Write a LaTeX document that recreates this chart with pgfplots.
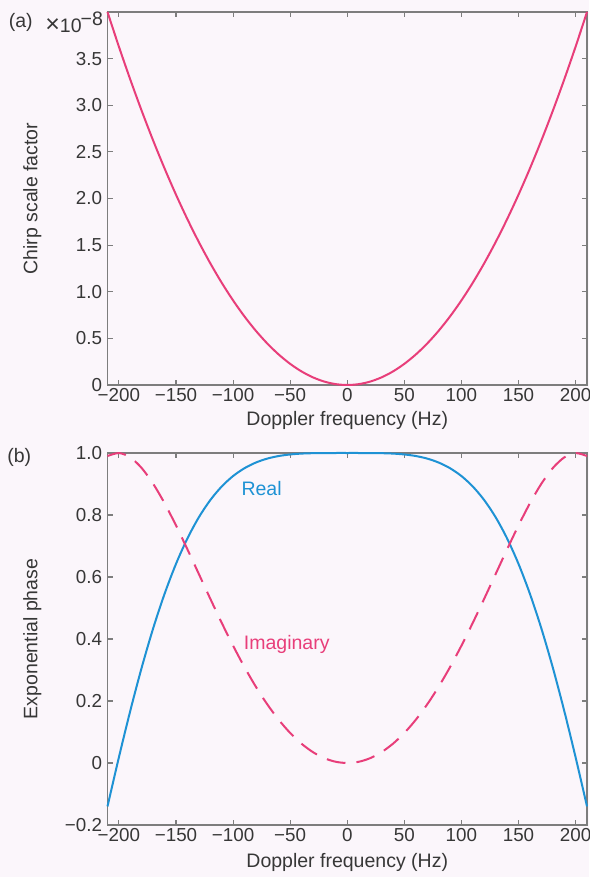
\documentclass[border=0pt]{standalone}
\usepackage{fontspec}
\setmainfont{Liberation Sans}
\usepackage{xcolor}
\usepackage{pgfplots}
\usepackage{pgfplotstable}
\pgfplotsset{compat=1.18}
\definecolor{pinkc}{RGB}{232,62,122}
\definecolor{bluec}{RGB}{30,146,212}
\definecolor{axgray}{RGB}{125,125,125}
\definecolor{txt}{RGB}{55,55,55}
\definecolor{bg}{RGB}{251,246,251}
\pagecolor{bg}
\newcommand\fs{\fontsize{19.5}{23}\selectfont}
\newcommand\ft{\fontsize{18.8}{22}\selectfont}

% chirp in units of 1e-8; re/im of the exponential phase
\pgfplotstableread{
f chirp re im
-210 4.0000 -0.1400 0.9902
-200 3.6281 0.0186 0.9998
-190 3.2744 0.1691 0.9856
-180 2.9388 0.3084 0.9512
-170 2.6213 0.4344 0.9007
-160 2.3220 0.5458 0.8379
-150 2.0408 0.6424 0.7663
-140 1.7778 0.7244 0.6893
-130 1.5329 0.7926 0.6098
-120 1.3061 0.8479 0.5302
-110 1.0975 0.8918 0.4525
-100 0.9070 0.9257 0.3784
-90 0.7347 0.9510 0.3092
-80 0.5805 0.9693 0.2458
-70 0.4444 0.9820 0.1890
-60 0.3265 0.9903 0.1393
-50 0.2268 0.9953 0.0969
-40 0.1451 0.9981 0.0621
-30 0.0816 0.9994 0.0349
-20 0.0363 0.9999 0.0155
-10 0.0091 1.0000 0.0039
0 0.0000 1.0000 0.0000
10 0.0091 1.0000 0.0039
20 0.0363 0.9999 0.0155
30 0.0816 0.9994 0.0349
40 0.1451 0.9981 0.0621
50 0.2268 0.9953 0.0969
60 0.3265 0.9903 0.1393
70 0.4444 0.9820 0.1890
80 0.5805 0.9693 0.2458
90 0.7347 0.9510 0.3092
100 0.9070 0.9257 0.3784
110 1.0975 0.8918 0.4525
120 1.3061 0.8479 0.5302
130 1.5329 0.7926 0.6098
140 1.7778 0.7244 0.6893
150 2.0408 0.6424 0.7663
160 2.3220 0.5458 0.8379
170 2.6213 0.4344 0.9007
180 2.9388 0.3084 0.9512
190 3.2744 0.1691 0.9856
200 3.6281 0.0186 0.9998
210 4.0000 -0.1400 0.9902
}\datatab

\pgfplotsset{
  panel/.style={
    scale only axis, width=479.5pt, height=373pt,
    xmin=-210, xmax=210,
    xtick={-200,-150,...,200},
    xticklabels={−200,−150,−100,−50,0,50,100,150,200},
    axis line style={axgray, line width=1.1pt},
    tick style={axgray, line width=1.1pt},
    major tick length=5pt,
    tick label style={font=\ft, text=txt},
    yticklabel style={xshift=-2pt},
    label style={font=\fs, text=txt},
    xlabel={Doppler frequency (Hz)},
    xlabel style={at={(axis description cs:0.5,-0.096)}, anchor=center},
    ylabel style={at={(axis description cs:-0.157,0.5)}, anchor=center},
    clip=false,
  }
}

\begin{document}
\begin{tikzpicture}
\useasboundingbox (-107.5pt,-492pt) rectangle (481.5pt,385pt);

\begin{axis}[panel, at={(0,0)},
  ymin=0, ymax=4,
  ytick={0,0.5,1,1.5,2,2.5,3,3.5},
  yticklabels={0,0.5,1.0,1.5,2.0,2.5,3.0,3.5},
  ylabel={Chirp scale factor}]
\addplot[pinkc, line width=2pt, smooth] table[x=f, y=chirp] {\datatab};
\node[font=\fs, text=txt] at (axis description cs:-0.181,0.973) {(a)};
\node[font=\fs, text=txt, anchor=base west, inner sep=0pt] at (axis description cs:-0.130,0.944) {{\fontsize{25}{27}\selectfont×}10\kern-1pt\raisebox{7pt}{−8}};
\end{axis}

\begin{axis}[panel, at={(0,-440pt)}, height=372pt,
  ymin=-0.2, ymax=1.0,
  ytick={-0.2,0,0.2,0.4,0.6,0.8,1.0},
  yticklabels={−0.2,0,0.2,0.4,0.6,0.8,1.0},
  ylabel={Exponential phase},
  xlabel style={at={(axis description cs:0.5,-0.1)}, anchor=center}]
\addplot[bluec, line width=2pt, smooth] table[x=f, y=re] {\datatab};
\addplot[pinkc, line width=2pt, smooth, dash pattern=on 19pt off 11pt] table[x=f, y=im] {\datatab};
\node[font=\fs, text=txt] at (axis description cs:-0.184,0.987) {(b)};
\node[font=\fs, text=bluec] at (axis cs:-75,0.886) {Real};
\node[font=\fs, text=pinkc] at (axis cs:-53,0.383) {Imaginary};
\end{axis}
\end{tikzpicture}
\end{document}
